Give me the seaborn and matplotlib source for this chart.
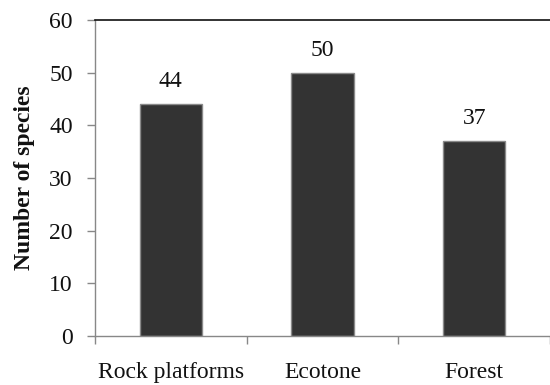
import matplotlib
matplotlib.use("Agg")
import matplotlib.pyplot as plt
import seaborn as sns
import pandas as pd

habitats = ["Rock platforms", "Ecotone", "Forest"]
species_counts = [44, 50, 37]

sns.set_theme(style="white")
plt.rcParams["font.family"] = ["Liberation Serif", "DejaVu Serif"]

df = pd.DataFrame({"habitat": habitats, "count": species_counts})

fig = plt.figure(figsize=(5.5, 3.85), dpi=100)
ax = fig.add_axes([0.1727, 0.1273, 0.8273, 0.8207])

sns.barplot(data=df, x="habitat", y="count", color="#333333", width=0.41,
            edgecolor="#8a8a8a", linewidth=1.0, saturation=1, ax=ax)

for i, v in enumerate(species_counts):
    ax.text(i, v + 3.2, str(v), ha="center", va="baseline", fontsize=17, color="#111111")

ax.set_ylim(0, 60)
ax.set_xlim(-0.5, 2.43)
ax.set_yticks(range(0, 61, 10))
ax.set_xticks([-0.5, 0.5, 1.5, 2.5], minor=False)
ax.set_xticklabels([])
ax.set_xticks([0, 1, 2], minor=True)
ax.set_xticklabels(habitats, minor=True)
ax.tick_params(axis="x", which="minor", length=0, pad=19, labelsize=17, colors="#111111")
ax.tick_params(axis="x", which="major", length=6, direction="out", color="#888888", width=1)
ax.tick_params(axis="y", length=6, direction="out", color="#888888", width=1,
               labelsize=17, labelcolor="#111111", pad=10)
ax.tick_params(axis="both", which="both", bottom=True, left=True)

ax.set_xlabel("")
ax.set_ylabel("Number of species", fontsize=17, fontweight="bold", color="#111111", labelpad=10)

for side in ["left", "bottom"]:
    ax.spines[side].set_color("#888888")
    ax.spines[side].set_linewidth(1)
ax.spines["top"].set_color("#111111")
ax.spines["top"].set_linewidth(1.2)
ax.spines["right"].set_visible(False)

fig.savefig("out.png", dpi=100)
